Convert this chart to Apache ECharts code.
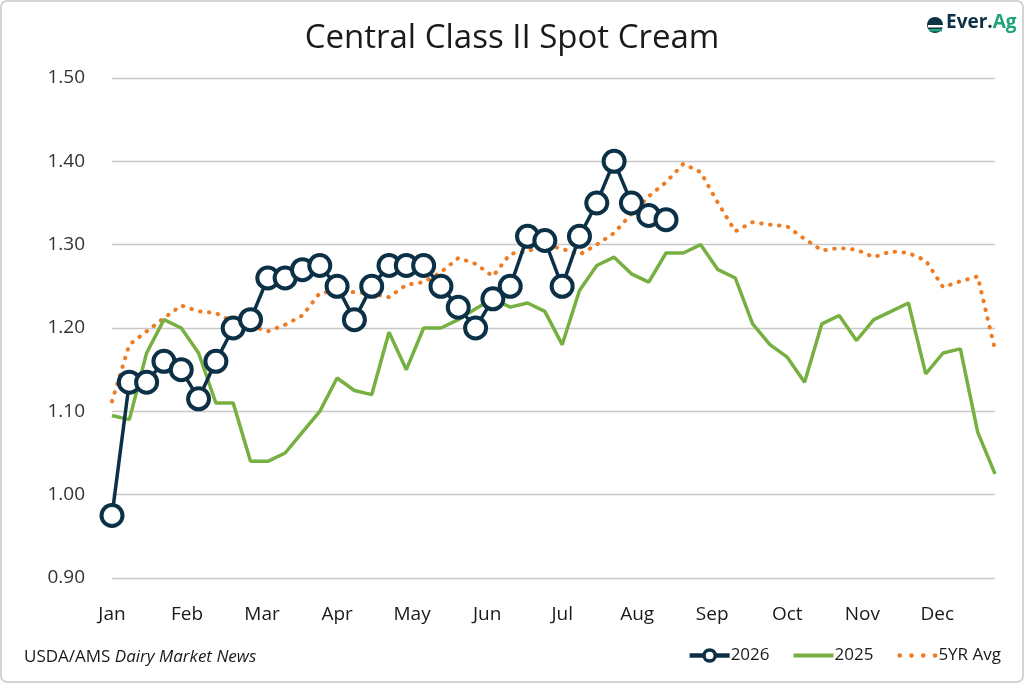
<!DOCTYPE html>
<html>
<head>
<meta charset="utf-8">
<title>Central Class II Spot Cream</title>
<script src="https://cdn.jsdelivr.net/npm/echarts@6/dist/echarts.min.js"></script>
<style>
  html, body { margin: 0; padding: 0; background: #fff; }
  #chart { width: 1024px; height: 683px; }
</style>
</head>
<body>
<div id="chart"></div>
<script>
// weekly values, week 0 = first week of Jan
const months = ['Jan', 'Feb', 'Mar', 'Apr', 'May', 'Jun', 'Jul', 'Aug', 'Sep', 'Oct', 'Nov', 'Dec'];
const yTicks = [0.9, 1.0, 1.1, 1.2, 1.3, 1.4, 1.5];

const y2026 = [0.975, 1.135, 1.135, 1.16, 1.15, 1.115, 1.16, 1.20, 1.21, 1.26, 1.26, 1.27, 1.275,
  1.25, 1.21, 1.25, 1.275, 1.275, 1.275, 1.25, 1.225, 1.20, 1.235, 1.25, 1.31, 1.305,
  1.25, 1.31, 1.35, 1.40, 1.35, 1.335, 1.33];

const y2025 = [1.095, 1.09, 1.17, 1.21, 1.20, 1.17, 1.11, 1.11, 1.04, 1.04, 1.05, 1.075, 1.10,
  1.14, 1.125, 1.12, 1.195, 1.15, 1.20, 1.20, 1.21, 1.223, 1.235, 1.225, 1.23, 1.22,
  1.18, 1.245, 1.275, 1.285, 1.265, 1.255, 1.29, 1.29, 1.30, 1.27, 1.26, 1.205, 1.18,
  1.165, 1.135, 1.205, 1.215, 1.185, 1.21, 1.22, 1.23, 1.145, 1.17, 1.175, 1.075, 1.025];

const avg5yr = [1.112, 1.18, 1.196, 1.212, 1.227, 1.22, 1.218, 1.207, 1.203, 1.196, 1.204, 1.215, 1.242,
  1.244, 1.243, 1.241, 1.237, 1.252, 1.255, 1.267, 1.284, 1.277, 1.262, 1.289, 1.292, 1.30,
  1.295, 1.288, 1.30, 1.314, 1.337, 1.358, 1.375, 1.397, 1.387, 1.35, 1.316, 1.327, 1.324,
  1.322, 1.307, 1.293, 1.296, 1.294, 1.285, 1.292, 1.29, 1.281, 1.249, 1.256, 1.262, 1.174];

const weeksPerMonth = 52 / 12;
const pairs = arr => arr.map((v, i) => [i, v]);

const NAVY = '#0c3147';
const GREEN = '#76b041';
const ORANGE = '#ef7b23';
const FONT = 'Open Sans';

// legend glyphs: plain bar for 2025, row of dots for the average
const lineIcon = 'path://M0,0h40v4h-40z';
const dotIcon = 'path://M2,0a2,2 0 1,0 0.01,0zM12,0a2,2 0 1,0 0.01,0zM22,0a2,2 0 1,0 0.01,0zM32,0a2,2 0 1,0 0.01,0z';

const chart = echarts.init(document.getElementById('chart'));
chart.setOption({
  backgroundColor: '#fff',
  animation: false,
  textStyle: { fontFamily: FONT },
  title: {
    text: 'Central Class II Spot Cream',
    left: 'center',
    top: 17,
    textStyle: { fontFamily: FONT, fontSize: 33, fontWeight: 'normal', color: '#1a1a1a' }
  },
  grid: { left: 112, right: 29, top: 78, bottom: 105 },
  xAxis: {
    type: 'value',
    min: 0,
    max: 51,
    interval: weeksPerMonth,
    axisLine: { show: false },
    axisTick: { show: false },
    splitLine: { show: false },
    axisLabel: {
      margin: 27,
      fontSize: 19,
      color: '#1a1a1a',
      formatter: v => months[Math.round(v / weeksPerMonth)] || ''
    }
  },
  yAxis: {
    type: 'value',
    min: yTicks[0],
    max: yTicks[yTicks.length - 1],
    interval: 0.1,
    axisLine: { show: false },
    axisTick: { show: false },
    splitLine: { lineStyle: { color: '#c8c8c8', width: 1.3 } },
    axisLabel: {
      margin: 27,
      fontSize: 19,
      color: '#333',
      formatter: v => v.toFixed(2)
    }
  },
  legend: {
    right: 18,
    bottom: 14,
    itemGap: 24,
    itemWidth: 40,
    itemHeight: 14,
    textStyle: { fontSize: 17, color: '#1a1a1a', padding: [0, 0, 0, -4] },
    data: [
      { name: '2026', lineStyle: { width: 4.5 }, itemStyle: { borderWidth: 3.5 } },
      { name: '2025', icon: lineIcon, itemStyle: { color: GREEN } },
      { name: '5YR Avg', icon: dotIcon, itemStyle: { color: ORANGE } }
    ]
  },
  series: [
    {
      name: '5YR Avg',
      type: 'line',
      data: pairs(avg5yr),
      symbol: 'none',
      z: 1,
      lineStyle: { color: ORANGE, width: 4, type: [0.5, 8.5], cap: 'round' },
      itemStyle: { color: ORANGE }
    },
    {
      name: '2025',
      type: 'line',
      data: pairs(y2025),
      symbol: 'none',
      z: 2,
      lineStyle: { color: GREEN, width: 3.5 },
      itemStyle: { color: GREEN }
    },
    {
      name: '2026',
      type: 'line',
      data: pairs(y2026),
      symbol: 'circle',
      symbolSize: 21,
      z: 3,
      lineStyle: { color: NAVY, width: 3.5 },
      itemStyle: { color: '#fff', borderColor: NAVY, borderWidth: 4 }
    }
  ],
  graphic: [
    // outer frame
    {
      type: 'rect',
      shape: { x: 1, y: 1, width: 1022, height: 681, r: 6 },
      style: { fill: 'none', stroke: '#d4d4d4', lineWidth: 2 },
      silent: true
    },
    // source note
    {
      type: 'text',
      left: 24,
      top: 649,
      style: {
        text: '{n|USDA/AMS }{i|Dairy Market News}',
        rich: {
          n: { fontFamily: FONT, fontSize: 17, fill: '#1a1a1a' },
          i: { fontFamily: FONT, fontSize: 17, fill: '#1a1a1a', fontStyle: 'italic' }
        }
      }
    },
    // logo
    {
      type: 'circle',
      shape: { cx: 935, cy: 25, r: 8 },
      style: { fill: NAVY }
    },
    {
      type: 'rect',
      shape: { x: 928, y: 25, width: 15, height: 2.5 },
      style: { fill: '#fff' }
    },
    {
      type: 'rect',
      shape: { x: 929, y: 29, width: 13, height: 2.5 },
      style: { fill: '#1fa37a' }
    },
    {
      type: 'text',
      left: 946,
      top: 13,
      style: {
        text: '{a|Ever.}{b|Ag}',
        rich: {
          a: { fontFamily: FONT, fontSize: 19, fontWeight: 'bold', fill: NAVY },
          b: { fontFamily: FONT, fontSize: 19, fontWeight: 'bold', fill: '#1fa37a' }
        }
      }
    }
  ]
});
</script>
</body>
</html>
